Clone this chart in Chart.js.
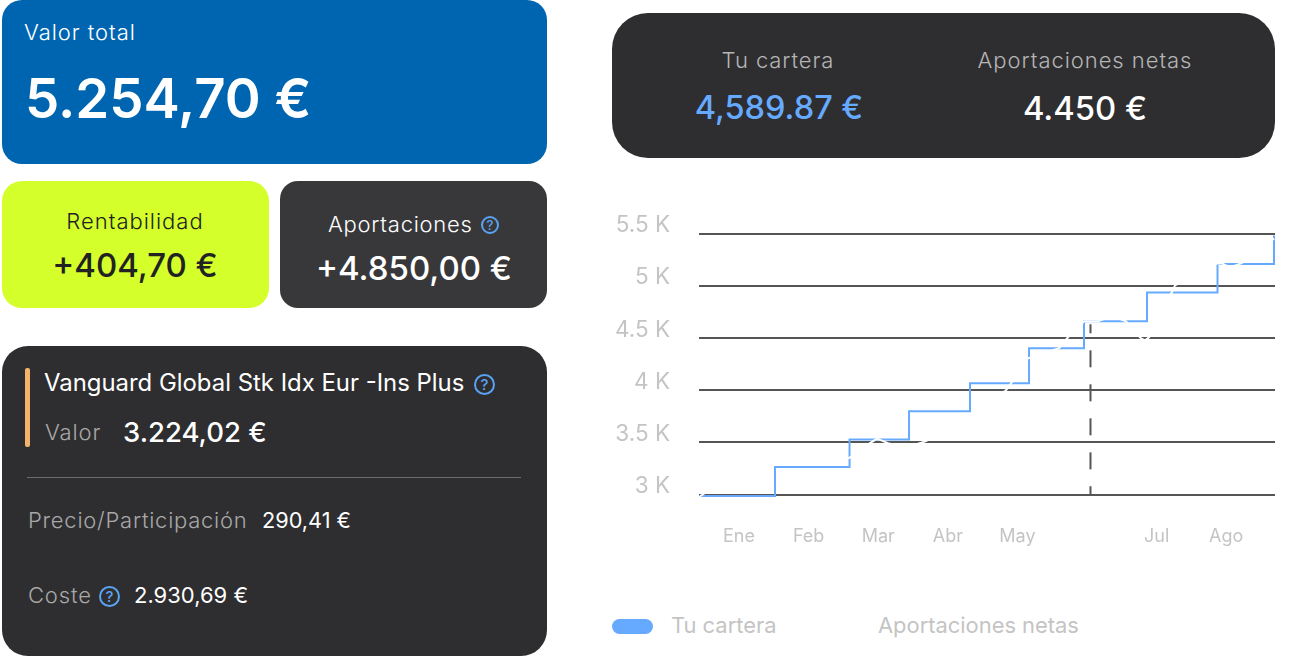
<!DOCTYPE html>
<html lang="es">
<head>
<meta charset="utf-8">
<title>Tu cartera</title>
<script src="https://cdn.jsdelivr.net/npm/chart.js@4"></script>
<style>
  html, body { margin: 0; padding: 0; background: #fff; overflow: hidden; }
  body { width: 1309px; height: 657px; position: relative; font-family: Inter, sans-serif; }
  .card { position: absolute; }
  .t { position: absolute; white-space: nowrap; line-height: 30px; height: 30px; transform: translateY(-15px); }
  .c { transform: translate(-50%, -15px); }
  .light { font-weight: 300; font-size: 22px; }
  .help {
    position: absolute; box-sizing: border-box; border: 2px solid #5aa2f2; border-radius: 50%;
    color: #5aa2f2; text-align: center; font-weight: 500;
  }
  #chart { position: absolute; left: 600px; top: 191px; }
  .legend-box { position: absolute; left: 612px; top: 619px; width: 41px; height: 15px; border-radius: 8px; background: #66aaff; }
</style>
</head>
<body>
  <div class="card" style="left:2px;top:0;width:545px;height:164px;border-radius:20px;background:#0065b0"></div>
  <div class="card" style="left:2px;top:181px;width:267px;height:127px;border-radius:20px;background:#d4ff2a"></div>
  <div class="card" style="left:280px;top:181px;width:267px;height:127px;border-radius:18px;background:#38383a"></div>
  <div class="card" style="left:2px;top:346px;width:545px;height:310px;border-radius:26px;background:#2e2e30"></div>
  <div class="card" style="left:612px;top:13px;width:663px;height:145px;border-radius:36px;background:#2e2e30"></div>
  <div class="card" style="left:25px;top:368px;width:5px;height:79px;border-radius:2px;background:#f5b26b"></div>
  <div class="card" style="left:27px;top:477px;width:494px;height:1px;background:#6b6b6b"></div>

  <span class="t light" style="left:24px;top:32px;letter-spacing:.95px;color:#fff">Valor total</span>
  <span class="t" style="left:25px;top:98px;font-size:54.5px;font-weight:600;color:#fff">5.254,70 €</span>
  <span class="t c light" style="left:135px;top:221px;letter-spacing:1px;color:#222">Rentabilidad</span>
  <span class="t c" style="left:135px;top:265px;font-size:33px;font-weight:500;color:#222">+404,70 €</span>
  <span class="t light" style="left:328px;top:224px;letter-spacing:.75px;color:#fff">Aportaciones</span>
  <span class="help" style="left:481px;top:216px;width:18px;height:18px;font-size:13px;line-height:14px">?</span>
  <span class="t c" style="left:414px;top:268px;font-size:33px;font-weight:500;color:#fff">+4.850,00 €</span>

  <span class="t" style="left:44px;top:383px;font-size:23.9px;font-weight:400;color:#fff">Vanguard Global Stk Idx Eur -Ins Plus</span>
  <span class="help" style="left:474px;top:374px;width:21px;height:21px;font-size:15px;line-height:17px">?</span>
  <span class="t light" style="left:45px;top:432px;letter-spacing:.9px;color:#a8a8a8">Valor</span>
  <span class="t" style="left:123px;top:432px;font-size:27.5px;font-weight:500;color:#fff">3.224,02 €</span>
  <span class="t light" style="left:28px;top:520px;letter-spacing:.75px;color:#a8a8a8">Precio/Participación</span>
  <span class="t" style="left:262px;top:520px;font-size:21.7px;color:#fff">290,41 €</span>
  <span class="t light" style="left:28px;top:595px;letter-spacing:.85px;color:#a8a8a8">Coste</span>
  <span class="help" style="left:99px;top:586px;width:21px;height:21px;font-size:15px;line-height:17px">?</span>
  <span class="t" style="left:134px;top:595px;font-size:22px;color:#fff">2.930,69 €</span>

  <span class="t c light" style="left:778px;top:60px;letter-spacing:.93px;color:#b5b5b5">Tu cartera</span>
  <span class="t c" style="left:779px;top:108px;font-size:32.5px;font-weight:500;color:#66aaff">4,589.87 €</span>
  <span class="t c light" style="left:1085px;top:60px;letter-spacing:.95px;color:#b5b5b5">Aportaciones netas</span>
  <span class="t c" style="left:1085px;top:108px;font-size:32.8px;font-weight:500;color:#fff">4.450 €</span>

  <canvas id="chart" width="675" height="369"></canvas>

  <div class="legend-box"></div>
  <span class="t legend-label" style="left:671px;top:625px;font-size:21.9px;color:#c4c4c4"></span>
  <span class="t legend-label" style="left:878px;top:625px;font-size:21.9px;color:#c4c4c4"></span>

<script>
const seriesNames = ["Tu cartera", "Aportaciones netas"];
const months = ["Ene", "Feb", "Mar", "Abr", "May", "", "Jul", "Ago"];

// x is in months, 0 = Ene
const carteraX = [-0.56, 0.517, 1.588, 2.443, 3.319, 4.167, 4.957, 5.862, 6.875, 7.687];
const carteraY = [2986, 3263, 3526, 3798, 4066, 4400, 4659, 4936, 5208, 5480];

const netasX = [-0.575, -0.489, 0.517, 1.58, 1.882, 1.983, 2.141, 2.385, 2.687, 3.319, 3.836, 3.922, 4.152, 4.598, 4.727, 4.957, 5.158, 5.359, 5.56, 5.776, 5.833, 5.891, 6.121, 6.221, 6.264, 6.868, 6.94, 7.055, 7.213, 7.414, 7.687];
const netasY = [2976, 3014, 3311, 3349, 3492, 3535, 3492, 3445, 3511, 3760, 3999, 4076, 4305, 4401, 4506, 4659, 4659, 4710, 4659, 4496, 4477, 4506, 4859, 4936, 5003, 5213, 5213, 5175, 5213, 5290, 5452];

const markerX = [5.05, 5.05];
const markerY = [4630, 3000];

const zip = (xs, ys) => xs.map((x, i) => ({ x: x, y: ys[i] }));

document.querySelectorAll(".legend-label").forEach((el, i) => {
  el.textContent = seriesNames[i];
});

Chart.defaults.font.family = "Inter";

new Chart(document.getElementById("chart"), {
  type: "line",
  data: {
    datasets: [
      {
        label: seriesNames[1],
        data: zip(netasX, netasY),
        borderColor: "#ffffff",
        borderWidth: 2,
        pointRadius: 0,
        clip: 4,
        order: 0,
      },
      {
        label: seriesNames[0],
        data: zip(carteraX, carteraY),
        borderColor: "#66aaff",
        borderWidth: 2,
        pointRadius: 0,
        stepped: "before",
        clip: 4,
        order: 1,
      },
      {
        label: "Hoy",
        data: zip(markerX, markerY),
        borderColor: "#555555",
        borderWidth: 2,
        borderDash: [17, 17],
        borderDashOffset: 8,
        pointRadius: 0,
        order: 2,
      },
    ],
  },
  options: {
    responsive: false,
    animation: false,
    plugins: { legend: { display: false }, tooltip: { enabled: false } },
    scales: {
      x: {
        type: "linear",
        min: -0.575,
        max: 7.701,
        afterFit: (scale) => { scale.height = 65.5; },
        grid: { display: false },
        border: { display: false },
        ticks: {
          stepSize: 1,
          includeBounds: false,
          autoSkip: false,
          maxRotation: 0,
          padding: 23,
          color: "#c4c4c4",
          font: { size: 18 },
          callback: (v) => months[v] || "",
        },
      },
      y: {
        min: 3000,
        max: 5500,
        afterFit: (scale) => { scale.width = 99; },
        grid: { color: "#555555", lineWidth: 2, drawTicks: false },
        border: { display: false },
        ticks: {
          stepSize: 500,
          padding: 29,
          labelOffset: -8,
          color: "#c4c4c4",
          font: { size: 22.5 },
          callback: (v) => v / 1000 + " K",
        },
      },
    },
  },
});
</script>
</body>
</html>
